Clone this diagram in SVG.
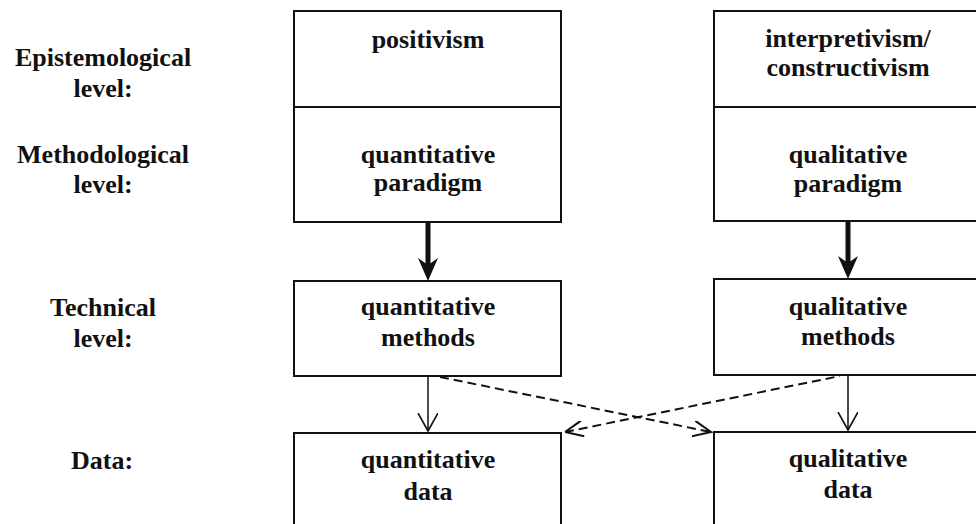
<svg xmlns="http://www.w3.org/2000/svg" width="976" height="524" viewBox="0 0 976 524">
<style>
text{font-family:"Liberation Serif","Times New Roman",serif;font-weight:bold;font-size:26px;fill:#111;text-anchor:middle}
.box{fill:none;stroke:#111;stroke-width:2}
.thin{stroke:#111;stroke-width:1.5;fill:none}
.dash{stroke:#111;stroke-width:2;fill:none;stroke-dasharray:9 5}
</style>
<defs>
<marker id="open" markerWidth="22" markerHeight="22" refX="18" refY="10" orient="auto" markerUnits="userSpaceOnUse">
<path d="M0,0 L18,10 L0,20" fill="none" stroke="#111" stroke-width="1.6"/>
</marker>
<marker id="opend" markerWidth="22" markerHeight="18" refX="18" refY="8" orient="auto" markerUnits="userSpaceOnUse">
<path d="M0,0 L18,8 L0,16" fill="none" stroke="#111" stroke-width="2"/>
</marker>
<marker id="opendr" markerWidth="22" markerHeight="18" refX="0" refY="8" orient="auto" markerUnits="userSpaceOnUse">
<path d="M18,0 L0,8 L18,16" fill="none" stroke="#111" stroke-width="2"/>
</marker>
</defs>

<g id="labels">
<text x="103" y="66">Epistemological</text>
<text x="103" y="97">level:</text>
<text x="103" y="163">Methodological</text>
<text x="103" y="193">level:</text>
<text x="103" y="316">Technical</text>
<text x="103" y="347">level:</text>
<text x="102" y="469">Data:</text>
</g>

<g id="positivism">
<rect class="box" x="294" y="11" width="267" height="96"/>
<text x="428" y="48">positivism</text>
</g>
<g id="quantitative-paradigm">
<rect class="box" x="294" y="107" width="267" height="115"/>
<text x="428" y="163">quantitative</text>
<text x="428" y="191">paradigm</text>
</g>
<g id="interpretivism">
<rect class="box" x="714" y="11" width="268" height="96"/>
<text x="848" y="47">interpretivism/</text>
<text x="848" y="76">constructivism</text>
</g>
<g id="qualitative-paradigm">
<rect class="box" x="714" y="107" width="268" height="114"/>
<text x="848" y="163">qualitative</text>
<text x="848" y="192">paradigm</text>
</g>
<g id="quantitative-methods">
<rect class="box" x="294" y="281" width="267" height="95"/>
<text x="428" y="315">quantitative</text>
<text x="428" y="346">methods</text>
</g>
<g id="qualitative-methods">
<rect class="box" x="714" y="279" width="268" height="96"/>
<text x="848" y="315">qualitative</text>
<text x="848" y="345">methods</text>
</g>
<g id="quantitative-data">
<rect class="box" x="294" y="433" width="267" height="110"/>
<text x="428" y="468">quantitative</text>
<text x="428" y="500">data</text>
</g>
<g id="qualitative-data">
<rect class="box" x="714" y="432" width="268" height="110"/>
<text x="848" y="467">qualitative</text>
<text x="848" y="498">data</text>
</g>

<g id="connectors">
<rect x="425.5" y="222" width="5" height="44" fill="#111"/>
<polygon points="428,281 418,258 428,265 438,258" fill="#111"/>
<rect x="845.5" y="221" width="5" height="43" fill="#111"/>
<polygon points="848,279 838,256 848,263 858,256" fill="#111"/>
<line class="thin" x1="428" y1="376" x2="428" y2="431" marker-end="url(#open)"/>
<line class="thin" x1="848" y1="375" x2="848" y2="430" marker-end="url(#open)"/>
<line class="dash" x1="440" y1="377" x2="711" y2="432" marker-end="url(#opend)"/>
<line class="dash" x1="565" y1="432" x2="840" y2="376" marker-start="url(#opendr)"/>
</g>
</svg>
